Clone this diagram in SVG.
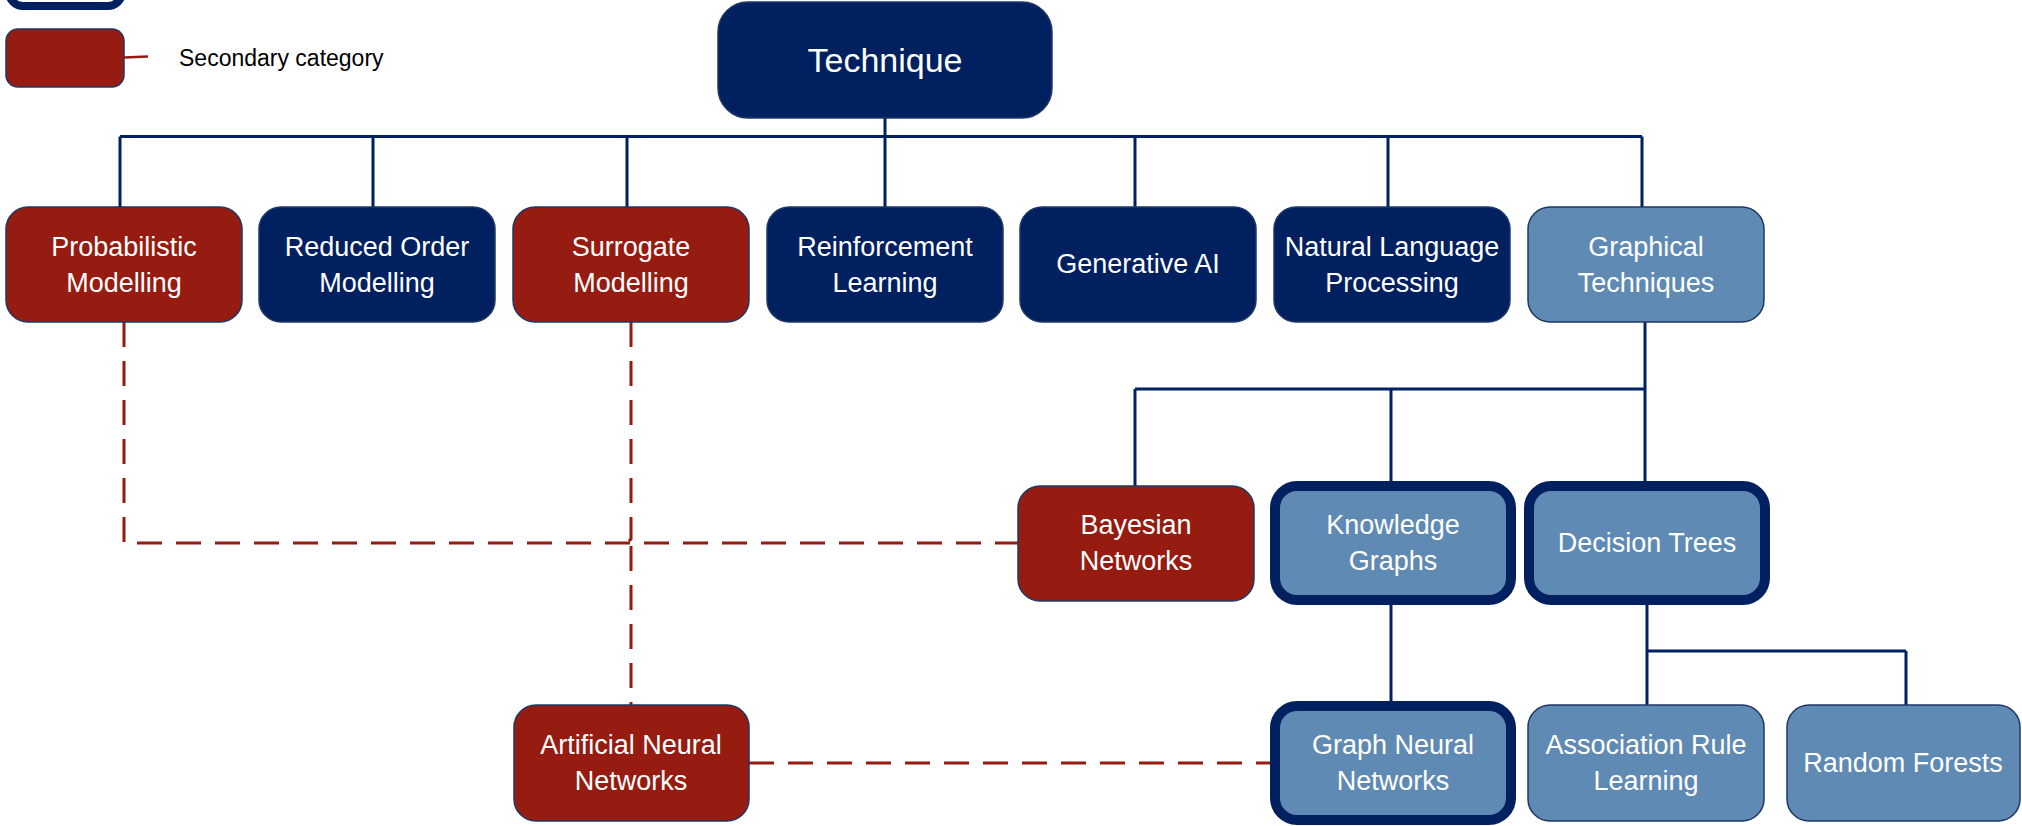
<svg xmlns="http://www.w3.org/2000/svg" width="2022" height="826" viewBox="0 0 2022 826">
<style>
.n rect{stroke:#1f3864;stroke-width:1.5}
.navy rect{fill:#002060}
.red rect{fill:#961B10}
.lb rect{fill:#5F8AB4}
.thick rect{fill:#5F8AB4;stroke:#002060;stroke-width:10}
text{font-family:"Liberation Sans",Arial,sans-serif;font-size:27px;fill:#fff;text-anchor:middle}
.conn path{fill:none;stroke:#002060;stroke-width:3}
.conn path.d{stroke:#961B10;stroke-dasharray:25 14}
</style>
<rect width="2022" height="826" fill="#fff"/>
<g id="legend">
<rect x="9" y="-60" width="113" height="66" rx="14" fill="#fff" stroke="#002060" stroke-width="8"/>
<rect x="6" y="29" width="118" height="58" rx="12" fill="#961B10" stroke="#1f3864" stroke-width="1.5"/>
<line x1="124" y1="57.5" x2="148" y2="56.5" stroke="#961B10" stroke-width="2.5"/>
<text x="179" y="66" style="fill:#000;text-anchor:start;font-size:23px">Secondary category</text>
</g>
<g class="conn">
<path d="M885 118V136.5M120 136.5H1642M120 136.5V207M373 136.5V207M627 136.5V207M885 136.5V207M1135 136.5V207M1388 136.5V207M1642 136.5V207"/>
<path d="M1645 322V389M1135 389H1645M1135 389V486M1391 389V481M1645 389V481"/>
<path d="M1391 605V701"/>
<path d="M1647 605V651M1647 651H1906M1647 651V705M1906 651V705"/>
<path class="d" d="M124 322V543H1018"/>
<path class="d" d="M631 322V539L627 543"/>
<path class="d" d="M631 546V705"/>
<path class="d" d="M749 763H1270"/>
</g>
<g id="technique" class="n navy"><rect x="718" y="2" width="334" height="116" rx="30"/><text x="885" y="72" style="font-size:34px">Technique</text></g>
<g id="probabilistic" class="n red"><rect x="6" y="207" width="236" height="115" rx="22"/><text x="124" y="256">Probabilistic</text><text x="124" y="292">Modelling</text></g>
<g id="reduced" class="n navy"><rect x="259" y="207" width="236" height="115" rx="22"/><text x="377" y="256">Reduced Order</text><text x="377" y="292">Modelling</text></g>
<g id="surrogate" class="n red"><rect x="513" y="207" width="236" height="115" rx="22"/><text x="631" y="256">Surrogate</text><text x="631" y="292">Modelling</text></g>
<g id="reinforcement" class="n navy"><rect x="767" y="207" width="236" height="115" rx="22"/><text x="885" y="256">Reinforcement</text><text x="885" y="292">Learning</text></g>
<g id="generative" class="n navy"><rect x="1020" y="207" width="236" height="115" rx="22"/><text x="1138" y="273">Generative AI</text></g>
<g id="nlp" class="n navy"><rect x="1274" y="207" width="236" height="115" rx="22"/><text x="1392" y="256">Natural Language</text><text x="1392" y="292">Processing</text></g>
<g id="graphical" class="n lb"><rect x="1528" y="207" width="236" height="115" rx="22"/><text x="1646" y="256">Graphical</text><text x="1646" y="292">Techniques</text></g>
<g id="bayesian" class="n red"><rect x="1018" y="486" width="236" height="115" rx="22"/><text x="1136" y="534">Bayesian</text><text x="1136" y="570">Networks</text></g>
<g id="knowledge" class="thick"><rect x="1275" y="486" width="236" height="114" rx="22"/><text x="1393" y="534">Knowledge</text><text x="1393" y="570">Graphs</text></g>
<g id="decision" class="thick"><rect x="1529" y="486" width="236" height="114" rx="22"/><text x="1647" y="552">Decision Trees</text></g>
<g id="ann" class="n red"><rect x="514" y="705" width="235" height="116" rx="22"/><text x="631" y="754">Artificial Neural</text><text x="631" y="790">Networks</text></g>
<g id="gnn" class="thick"><rect x="1275" y="706" width="236" height="114" rx="22"/><text x="1393" y="754">Graph Neural</text><text x="1393" y="790">Networks</text></g>
<g id="association" class="n lb"><rect x="1528" y="705" width="236" height="116" rx="22"/><text x="1646" y="754">Association Rule</text><text x="1646" y="790">Learning</text></g>
<g id="random" class="n lb"><rect x="1787" y="705" width="233" height="116" rx="22"/><text x="1903" y="772">Random Forests</text></g>
</svg>
